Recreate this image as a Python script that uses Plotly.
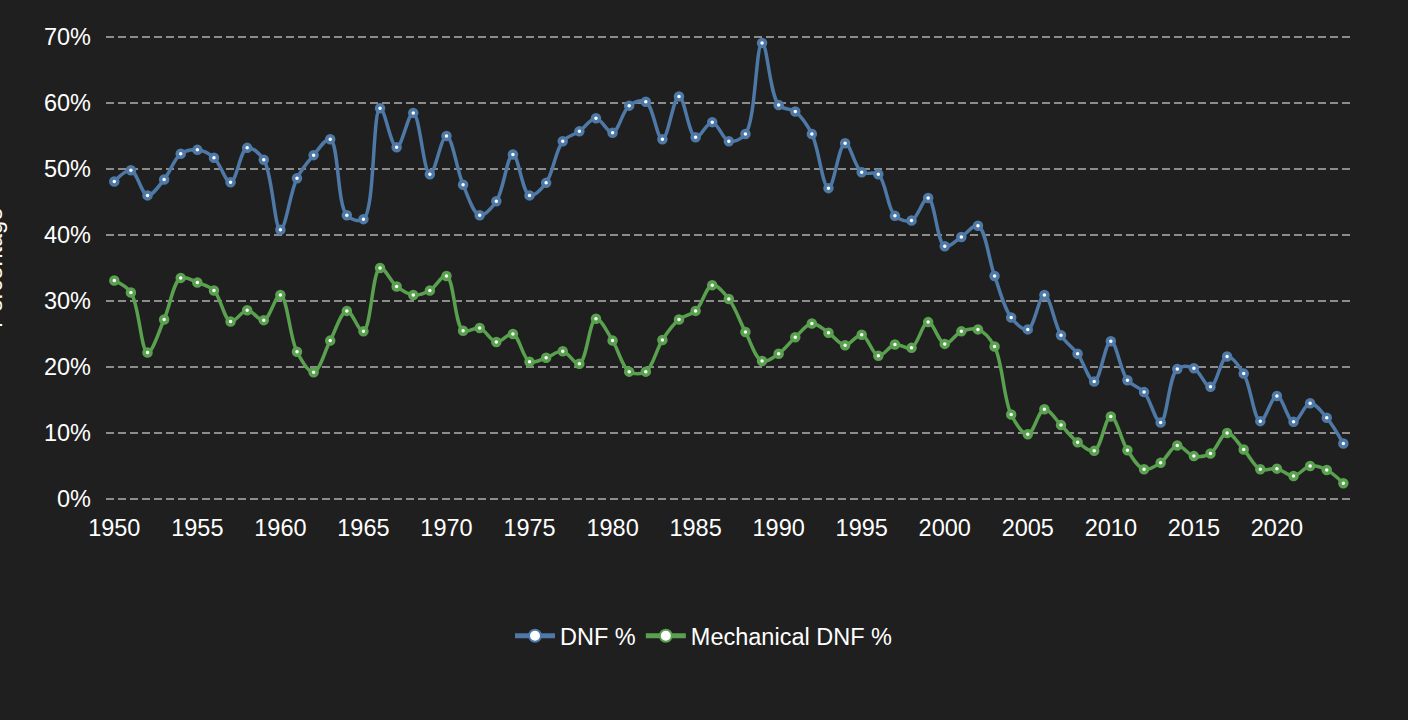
import plotly.graph_objects as go

years = list(range(1950, 2025))

dnf_pct = [
    48.1, 49.8, 46.0, 48.4, 52.3, 52.9, 51.7, 48.0, 53.2, 51.4,
    40.8, 48.6, 52.1, 54.5, 43.0, 42.4, 59.2, 53.3, 58.5, 49.2,
    55.0, 47.6, 43.0, 45.1, 52.2, 46.0, 47.9, 54.2, 55.7, 57.7,
    55.5, 59.6, 60.2, 54.5, 61.0, 54.8, 57.1, 54.2, 55.3, 69.1,
    59.7, 58.7, 55.3, 47.1, 53.9, 49.5, 49.2, 42.9, 42.2, 45.6,
    38.3, 39.7, 41.4, 33.8, 27.5, 25.7, 30.9, 24.8, 22.0, 17.8,
    23.9, 18.0, 16.2, 11.6, 19.7, 19.8, 17.0, 21.6, 19.0, 11.8,
    15.6, 11.7, 14.5, 12.3, 8.4,
]

mech_dnf_pct = [
    33.1, 31.3, 22.2, 27.2, 33.5, 32.8, 31.6, 26.9, 28.6, 27.1,
    30.9, 22.3, 19.2, 24.0, 28.5, 25.4, 35.0, 32.2, 30.9, 31.6,
    33.8, 25.5, 25.9, 23.8, 25.0, 20.8, 21.4, 22.4, 20.5, 27.3,
    24.0, 19.3, 19.3, 24.1, 27.2, 28.5, 32.4, 30.3, 25.3, 20.9,
    22.0, 24.5, 26.6, 25.2, 23.3, 24.9, 21.7, 23.4, 22.9, 26.8,
    23.5, 25.4, 25.7, 23.1, 12.8, 9.8, 13.6, 11.2, 8.6, 7.3,
    12.5, 7.4, 4.5, 5.5, 8.1, 6.5, 6.9, 10.0, 7.5, 4.5,
    4.6, 3.5, 5.0, 4.4, 2.4,
]

x_ticks = list(range(1950, 2025, 5))
y_ticks = [0, 10, 20, 30, 40, 50, 60, 70]
y_tick_labels = [f"{v}%" for v in y_ticks]

BG = "#1f1f1f"
BLUE = "#4e79a7"
GREEN = "#59a14f"
FONT = "Liberation Sans, Arial, Helvetica, sans-serif"
FS = 23.5

fig = go.Figure()
for name, vals, col in [("DNF %", dnf_pct, BLUE), ("Mechanical DNF %", mech_dnf_pct, GREEN)]:
    fig.add_trace(go.Scatter(
        x=years, y=vals, name=name, mode="lines+markers",
        line=dict(color=col, width=3.5, shape="spline", smoothing=1.0),
        marker=dict(size=7, color="white", line=dict(color=col, width=3.5)),
    ))

fig.update_layout(
    width=1408, height=720,
    paper_bgcolor=BG, plot_bgcolor=BG,
    margin=dict(l=106, r=58, t=35, b=219),
    font=dict(family=FONT, size=FS, color="white"),
    showlegend=True,
    legend=dict(
        orientation="h", xref="container", yref="container",
        x=0.5, xanchor="center", y=1 - 636 / 720, yanchor="middle",
        font=dict(size=FS, color="white"), itemsizing="constant",
        bgcolor="rgba(0,0,0,0)", itemwidth=40,
    ),
    xaxis=dict(
        range=[1949.5, 2024.4], tickvals=x_ticks, showgrid=False, zeroline=False,
        showline=False, ticks="", tickfont=dict(size=FS, color="white"),
        ticklabelstandoff=10,
    ),
    yaxis=dict(
        range=[-0.3, 70.3], tickvals=y_ticks, ticktext=y_tick_labels,
        showgrid=True, gridcolor="#8c8c8c", gridwidth=2, griddash="8px,4px",
        zeroline=False, showline=False, ticks="",
        tickfont=dict(size=FS, color="white"), ticklabelstandoff=14,
    ),
    annotations=[dict(
        text="Percentage", textangle=-90, xref="paper", yref="paper",
        x=0, y=0.5, xanchor="right", yanchor="middle", xshift=-97,
        showarrow=False, font=dict(size=FS, color="white"),
    )],
)

fig.write_html("out.html")
